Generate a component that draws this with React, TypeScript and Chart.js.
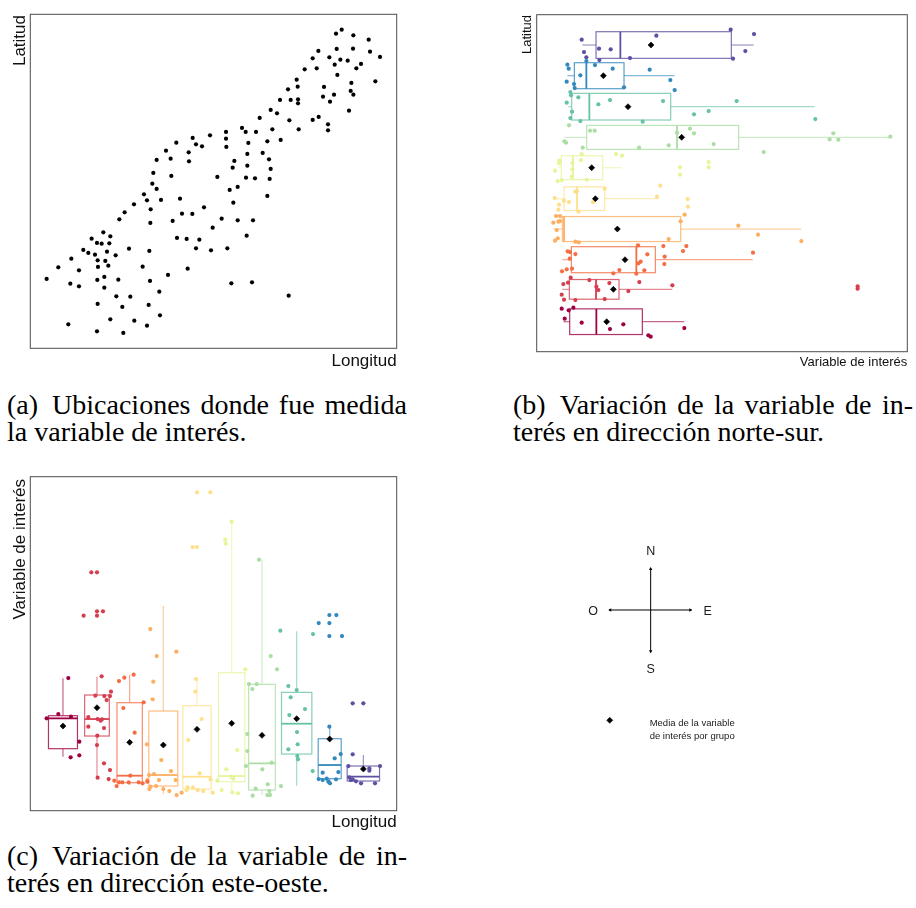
import React, { useEffect, useRef } from "react";
import { Chart, registerables } from "chart.js";

Chart.register(...registerables);

// ---------------- DATA ----------------
// (a) measurement locations
const lonA = [1008,1025,1060,1106,1010,1059,1110,1140,938,955,988,1021,1043,1004,1083,1069,914,950,1012,890,864,893,972,1054,1052,1060,1126,969,1002,990,840,872,894,894,812,831,1047,779,868,938,956,984,984,896,817,726,737,768,678,630,678,578,588,606,529,679,745,802,842,498,566,742,788,470,512,567,703,698,742,807,812,460,514,652,738,765,809,457,470,689,713,432,441,483,540,802,402,374,452,612,700,358,518,546,577,451,665,713,759,638,310,275,331,291,305,328,531,560,598,740,250,265,285,321,387,448,588,633,682,214,293,316,347,175,237,294,325,428,563,140,211,237,292,313,355,450,504,313,694,756,349,391,478,866,293,367,446,205,291,331,370,403,441,480];
const latA = [999,1011,994,981,953,954,945,929,925,947,928,921,918,906,908,895,892,895,875,861,832,840,839,851,827,816,856,810,816,795,800,800,802,790,770,760,768,746,739,740,749,727,709,712,712,716,704,704,704,694,684,686,667,661,672,659,671,676,680,648,643,638,641,620,624,616,617,597,603,622,593,581,572,569,567,565,563,549,533,530,539,517,499,500,504,512,487,463,472,478,492,442,437,459,458,431,444,439,439,417,403,384,391,371,369,370,386,383,381,393,350,341,336,345,354,347,355,349,355,324,319,317,334,298,289,299,303,300,294,263,249,241,260,269,261,257,275,237,250,253,211,210,225,213,188,179,185,127,106,142,101,138,123,154];

// (b) north-south groups (south -> north)
const bCenter = [135,232,321,413,504,597,688,780,873,965];
const bLo   = [160,157,157,130,130,145,163,175,172,217];
const bQ1   = [179,178,184,157,162,154,230,185,193,258];
const bMed  = [259,258,379,162,201,189,501,238,229,331];
const bQ3   = [397,327,436,512,284,278,686,482,342,664];
const bHi   = [523,487,728,874,445,335,1141,914,493,731];
const bMean = [290,310,345,322,256,245,515,354,280,423];
const bVal = [
  [155,176,190,164,215,300,340,415,422,523],
  [182,160,174,238,298,388,487,155,162,196,259,265,284,355,1043,1043],
  [384,460,529,519,729,173,180,196,179,412,464,463,392,385,403,379,328,310,186,170,156],
  [130,138,150,145,150,140,143,135,196,206,476,512,524,685,744,874],
  [134,162,177,196,201,205,249,284,441,451,147,145,533,534],
  [148,147,135,143,155,187,187,213,215,185,230,510,510,596,596,318,336],
  [177,163,168,240,254,218,387,476,501,540,552,611,761,959,970,985,1141],
  [181,183,205,170,265,300,459,186,181,211,398,552,596,680,916],
  [172,176,211,229,255,308,419,170,192,194,342,481,494],
  [215,222,229,267,268,302,360,439,662,669,706,732],
];
const bLat = [
  [174,169,177,144,132,113,127,94,90,116],
  [267,248,252,260,251,254,244,216,201,200,240,230,203,227,241,234],
  [364,362,362,347,342,346,344,338,324,337,330,308,315,310,289,279,290,280,294,292,286],
  [432,452,452,435,437,410,385,378,375,373,383,436,456,423,396,377],
  [506,498,494,525,526,465,493,534,510,543,486,471,503,480],
  [618,610,588,557,559,611,592,620,638,570,561,598,576,614,598,638,633],
  [724,676,672,708,708,657,657,664,702,714,700,668,644,682,700,681,690],
  [824,814,808,792,787,800,797,765,746,737,735,757,767,797,743],
  [906,894,874,917,905,894,891,855,848,836,838,860,830],
  [981,944,928,954,920,952,926,993,1011,924,947,998],
];

// (c) east-west groups (west -> east)
const cCenter = [189,291,389,490,591,695,786,890,989,1090];
const cLo   = [240,177,155,128,132,138,125,153,160,165];
const cQ1   = [264,302,162,152,143,165,140,248,174,167];
const cMed  = [355,353,183,185,180,182,220,339,215,180];
const cQ3   = [363,425,402,377,393,492,457,433,294,212];
const cHi   = [475,480,486,692,473,945,831,616,330,245];
const cMean = [332,387,283,275,322,340,304,354,293,203];
const cLon = [
  [140,175,213,205,238,238,212],
  [274,291,251,291,309,291,305,333,313,330,286,320,265,293,302,306,312,265,292,291,312,330,293,326],
  [357,373,401,370,431,404,391,343,350,357,367,386,416,428,442],
  [451,470,529,460,458,441,484,513,447,462,442,477,527,452,468,448,490,508,530,545],
  [591,631,578,591,588,586,605,565,599,563,579,560,593,610,638,632],
  [695,676,677,736,712,679,694,700,652,665,697,714],
  [777,812,831,747,770,757,742,742,738,787,815,767,803,808,802,810,758,843],
  [841,939,865,890,872,915,868,891,893,865,892,894,938],
  [956,988,988,1009,988,1026,988,1022,1004,968,1015,956,968,980,985,990,1008],
  [1058,1090,1058,1108,1140,1048,1052,1058,1068,1083,1125,1108,1045],
];
const cVal = [
  [355,368,360,476,285,244,238],
  [793,793,663,676,676,663,481,435,422,422,423,410,359,353,348,352,326,330,303,275,220,200,177,173],
  [467,477,486,386,403,312,183,168,152,163,163,163,163,160,165],
  [623,542,555,465,412,277,230,197,185,188,170,170,170,150,152,143,143,137,125,132],
  [1033,1033,869,869,473,435,353,290,190,148,147,140,140,137,132,172],
  [945,891,879,502,260,202,180,174,168,140,133,130],
  [831,542,502,458,458,443,308,257,212,202,222,144,157,137,125,125,123,152],
  [618,608,452,440,418,383,365,314,277,262,242,232,197],
  [641,641,665,665,602,602,330,248,235,192,194,173,170,174,165,160,172],
  [400,400,247,205,212,178,170,172,166,160,160,198,212],
];

const compassLabels = ["N", "S", "O", "E"];
const legendLines = ["Media de la variable", "de interés por grupo"];

// ---------------- STYLE ----------------
const SPECTRAL = ["#9E0142","#D53E4F","#F46D43","#FDAE61","#FEE08B","#E6F598","#ABDDA4","#66C2A5","#3288BD","#5E4FA2"];
const bHalf = [38.5,29.5,39,37.5,35.5,36,36,40,39,40];
const cHalf = [43.5,37,38,43.5,42.5,39.5,40,45.5,34.5,48.5];
const SANS = '"Liberation Sans", Arial, Helvetica, sans-serif';
const SERIF = '"Liberation Serif", "Times New Roman", serif';

function hexA(hex: string, a: number) {
  const n = parseInt(hex.slice(1), 16);
  return `rgba(${(n >> 16) & 255},${(n >> 8) & 255},${n & 255},${a})`;
}

function framePlugin(o: any) {
  return {
    id: "frame",
    afterDraw(chart: any) {
      const { ctx, chartArea: a } = chart;
      ctx.save();
      ctx.strokeStyle = "#4d4d4d";
      ctx.lineWidth = 1;
      ctx.strokeRect(a.left, a.top, a.right - a.left, a.bottom - a.top);
      ctx.fillStyle = "#111";
      ctx.font = `${o.size}px ${SANS}`;
      ctx.textAlign = "right";
      ctx.textBaseline = "alphabetic";
      ctx.fillText(o.x, a.right, a.bottom + o.xBase);
      ctx.translate(a.left - o.yBase, a.top + o.yTop);
      ctx.rotate(-Math.PI / 2);
      ctx.textAlign = "right";
      ctx.fillText(o.y, 0, 0);
      ctx.restore();
    },
  };
}

function boxPlugin(horizontal: boolean, centers: number[], half: number[], lo: number[], q1: number[], med: number[], q3: number[], hi: number[]) {
  return {
    id: "boxes",
    beforeDatasetsDraw(chart: any) {
      const ctx = chart.ctx;
      const pos = horizontal ? chart.scales.y : chart.scales.x;
      const val = horizontal ? chart.scales.x : chart.scales.y;
      ctx.save();
      for (let i = 0; i < centers.length; i++) {
        const col = SPECTRAL[i];
        const c = pos.getPixelForValue(centers[i]);
        const h = Math.abs(pos.getPixelForValue(centers[i] + half[i]) - c);
        const pLo = val.getPixelForValue(lo[i]);
        const pQ1 = val.getPixelForValue(q1[i]);
        const pMed = val.getPixelForValue(med[i]);
        const pQ3 = val.getPixelForValue(q3[i]);
        const pHi = val.getPixelForValue(hi[i]);
        const seg = (a1: number, a2: number, b1: number, b2: number) => {
          ctx.beginPath();
          if (horizontal) { ctx.moveTo(a1, b1); ctx.lineTo(a2, b2); }
          else { ctx.moveTo(b1, a1); ctx.lineTo(b2, a2); }
          ctx.stroke();
        };
        ctx.lineWidth = 1.2;
        ctx.strokeStyle = hexA(col, 0.6);
        seg(pHi, pQ3, c, c);
        seg(pQ1, pLo, c, c);
        let rx, ry, rw, rh;
        if (horizontal) { rx = Math.min(pQ1, pQ3); rw = Math.abs(pQ3 - pQ1); ry = c - h; rh = 2 * h; }
        else { rx = c - h; rw = 2 * h; ry = Math.min(pQ1, pQ3); rh = Math.abs(pQ3 - pQ1); }
        ctx.fillStyle = "#fff";
        ctx.fillRect(rx, ry, rw, rh);
        ctx.strokeStyle = hexA(col, 0.8);
        ctx.lineWidth = 1.2;
        ctx.strokeRect(rx, ry, rw, rh);
        ctx.strokeStyle = col;
        ctx.lineWidth = 1.8;
        seg(pMed, pMed, c - h, c + h);
      }
      ctx.restore();
    },
  };
}

const baseOpts = (padding: any, xr: number[], yr: number[]) => ({
  responsive: false,
  animation: false,
  events: [],
  layout: { padding },
  plugins: { legend: { display: false }, tooltip: { enabled: false } },
  scales: {
    x: { type: "linear", min: xr[0], max: xr[1], display: false },
    y: { type: "linear", min: yr[0], max: yr[1], display: false },
  },
});

const meanDataset = (pts: any[]) => ({
  data: pts,
  pointStyle: "rectRot",
  pointRadius: 3,
  pointBackgroundColor: "#000",
  pointBorderColor: "#000",
  pointBorderWidth: 0.6,
  clip: false,
});

const groupDataset = (pts: any[], g: number) => ({
  data: pts,
  pointRadius: 2.1,
  pointBackgroundColor: SPECTRAL[g],
  pointBorderWidth: 0,
  clip: false,
});

const configA = () => ({
  type: "scatter",
  data: {
    datasets: [{
      data: lonA.map((x, i) => ({ x, y: latA[i] })),
      pointRadius: 2.1,
      pointBackgroundColor: "#000",
      pointBorderWidth: 0,
      clip: false,
    }],
  },
  options: baseOpts({ left: 30.3, top: 14.3, right: 13.3, bottom: 31.7 }, [91, 1190], [55, 1057]),
  plugins: [framePlugin({ x: "Longitud", y: "Latitud", size: 17, xBase: 18, yBase: 5.3, yTop: 0.7 })],
});

const configB = () => ({
  type: "scatter",
  data: {
    datasets: [
      meanDataset(bMean.map((m, g) => ({ x: m, y: bCenter[g] }))),
      ...bVal.map((vals, g) => groupDataset(vals.map((v, k) => ({ x: v, y: bLat[g][k] })), g)),
    ],
  },
  options: baseOpts({ left: 26.7, top: 14.7, right: 8.7, bottom: 28.3 }, [80, 1192], [45, 1056]),
  plugins: [
    boxPlugin(true, bCenter, bHalf, bLo, bQ1, bMed, bQ3, bHi),
    framePlugin({ x: "Variable de interés", y: "Latitud", size: 13, xBase: 14, yBase: 5.7, yTop: 0.3 }),
  ],
});

const configC = () => ({
  type: "scatter",
  data: {
    datasets: [
      meanDataset(cMean.map((m, g) => ({ x: cCenter[g], y: m }))),
      ...cLon.map((xs, g) => groupDataset(xs.map((x, k) => ({ x, y: cVal[g][k] })), g)),
    ],
  },
  options: baseOpts({ left: 30.3, top: 11.7, right: 13.3, bottom: 29.3 }, [91, 1190], [78, 1080]),
  plugins: [
    boxPlugin(false, cCenter, cHalf, cLo, cQ1, cMed, cQ3, cHi),
    framePlugin({ x: "Longitud", y: "Variable de interés", size: 17, xBase: 16.6, yBase: 5.3, yTop: 2.3 }),
  ],
});

const compassPlugin = {
  id: "compassText",
  afterDatasetsDraw(chart: any) {
    const { ctx } = chart;
    const xs = chart.scales.x, ys = chart.scales.y;
    const lx = [0, 0, -60, 59.6];
    const ly = [57, -65.7, -5, -5];
    ctx.save();
    ctx.fillStyle = "#1a1a1a";
    ctx.textAlign = "center";
    ctx.textBaseline = "alphabetic";
    ctx.font = `12.5px ${SANS}`;
    compassLabels.forEach((t, i) => ctx.fillText(t, xs.getPixelForValue(lx[i]), ys.getPixelForValue(ly[i])));
    ctx.font = `9.5px ${SANS}`;
    const ty = [-120, -133.4];
    legendLines.forEach((t, i) => ctx.fillText(t, xs.getPixelForValue(43.3), ys.getPixelForValue(ty[i])));
    ctx.restore();
  },
};

const configD = () => ({
  type: "scatter",
  data: {
    datasets: [
      { data: [{ x: -43.4, y: 0 }, { x: 42.6, y: 0 }], showLine: true, borderColor: "#000", borderWidth: 1, pointRadius: 0, clip: false },
      { data: [{ x: 0, y: -44 }, { x: 0, y: 43.6 }], showLine: true, borderColor: "#000", borderWidth: 1, pointRadius: 0, clip: false },
      {
        data: [{ x: 0, y: 42.4 }, { x: 0, y: -42.8 }, { x: 41.4, y: 0 }, { x: -42.2, y: 0 }],
        pointStyle: "triangle", pointRadius: 2, pointRotation: [0, 180, 90, 270],
        pointBackgroundColor: "#000", pointBorderWidth: 0, clip: false,
      },
      meanDataset([{ x: -42.7, y: -114.4 }]),
    ],
  },
  options: baseOpts({ left: 0, top: 0, right: 0, bottom: 0 }, [-110.7, 109.3], [-149.7, 110.3]),
  plugins: [compassPlugin],
});

function ChartCanvas({ left, top, width, height, config }: any) {
  const ref = useRef<HTMLCanvasElement>(null);
  useEffect(() => {
    const chart = new Chart(ref.current as any, config() as any);
    return () => chart.destroy();
  }, []);
  return (
    <canvas
      ref={ref}
      width={width}
      height={height}
      style={{ position: "absolute", left, top, width, height }}
    />
  );
}

function CapLine({ left, baseline, text, justify }: any) {
  return (
    <div
      style={{
        position: "absolute",
        left,
        top: baseline - 25,
        width: 400,
        fontFamily: SERIF,
        fontSize: 28,
        lineHeight: "31px",
        color: "#000",
        textAlign: justify ? "justify" : "left",
        textAlignLast: justify ? "justify" : "left",
      } as any}
    >
      {text}
    </div>
  );
}

export default function App() {
  return (
    <div style={{ position: "absolute", left: 0, top: 0, width: 916, height: 908, background: "#fff", overflow: "hidden" }}>
      <ChartCanvas left={0} top={0} width={410} height={380} config={configA} />
      <ChartCanvas left={510} top={0} width={406} height={380} config={configB} />
      <ChartCanvas left={0} top={465} width={410} height={375} config={configC} />
      <ChartCanvas left={540} top={499} width={220} height={260} config={configD} />
      <CapLine left={7} baseline={414} justify text={"(a)\u2002Ubicaciones donde fue medida"} />
      <CapLine left={7} baseline={441} text={"la variable de interés."} />
      <CapLine left={513} baseline={414} justify text={"(b)\u2002Variación de la variable de in-"} />
      <CapLine left={513} baseline={441} text={"terés en dirección norte-sur."} />
      <CapLine left={7} baseline={865} justify text={"(c)\u2002Variación de la variable de in-"} />
      <CapLine left={7} baseline={892} text={"terés en dirección este-oeste."} />
    </div>
  );
}
